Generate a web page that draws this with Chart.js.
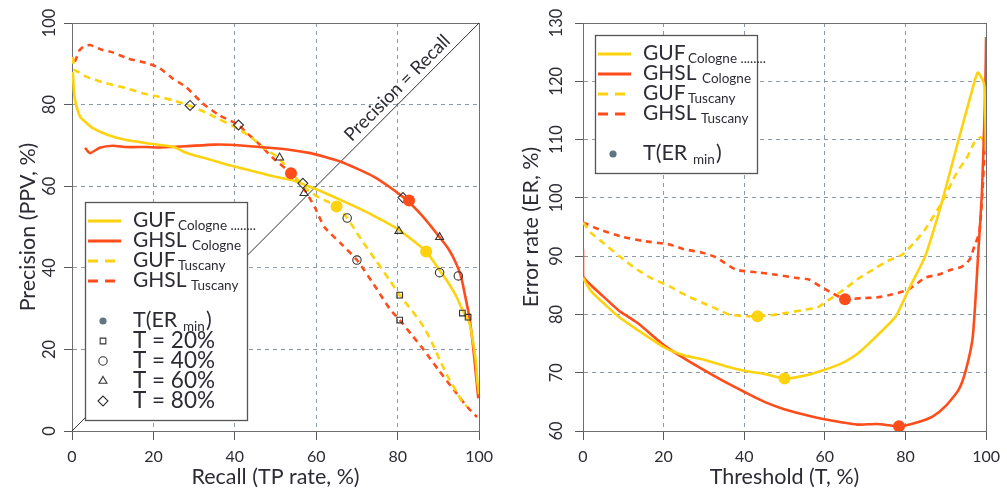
<!DOCTYPE html>
<html><head><meta charset="utf-8">
<script src="https://cdn.jsdelivr.net/npm/chart.js@4.4.1/dist/chart.umd.min.js"></script>
<style>
html,body{margin:0;padding:0;background:#fff;}
body{width:1007px;height:490px;position:relative;overflow:hidden;}
#w1{position:absolute;left:0;top:0;width:500px;height:490px;}
#w2{position:absolute;left:500px;top:0;width:507px;height:490px;}
</style></head>
<body>
<div id="w1"><canvas id="c1" width="500" height="490"></canvas></div>
<div id="w2"><canvas id="c2" width="507" height="490"></canvas></div>
<script>
// ---------- Data: left panel (Precision vs Recall) ----------
const xTicks = [0, 20, 40, 60, 80, 100];
const precisionTicks = [0, 20, 40, 60, 80, 100];
const errorTicks = [60, 70, 80, 90, 100, 110, 120, 130];

const recallGufCologne = [0.2, 0.5, 1, 2, 3, 5, 9, 13.4, 18, 25, 28, 34, 40, 46, 50, 54, 58.6, 62, 64.5, 70, 75, 80, 84, 87, 90, 92, 94.4, 96, 97.6, 98.5, 99.2, 99.6, 100];
const precisionGufCologne = [88, 83, 80, 77, 76, 74.3, 72.5, 71.3, 70.6, 69.6, 68.2, 66.5, 64.8, 63.3, 62.3, 61.5, 59.8, 58.4, 57.3, 54.8, 52.3, 49.5, 46.5, 44, 39.8, 37, 33, 29.5, 26.5, 22, 17, 12, 9];

const recallGhslCologne = [3.2, 4.4, 6.8, 10, 13.4, 18.2, 21.4, 28, 35, 40, 46, 52, 58.6, 62, 66, 70, 74.2, 78, 82.2, 86, 88, 90.3, 92.5, 94.4, 95.6, 96.6, 97.6, 98.5, 99.2, 99.8];
const precisionGhslCologne = [69.4, 68.1, 69.4, 69.9, 69.6, 69.6, 69.5, 69.8, 70.2, 70.1, 69.6, 69.1, 68.1, 67.2, 66, 64.3, 62.3, 59.8, 56.6, 52.8, 50.4, 47.5, 44.6, 41, 37.7, 33, 28, 21, 14, 8];

const recallGufTuscany = [0.2, 0.6, 1.5, 3.6, 7.5, 13.4, 17.3, 21.4, 25, 28.7, 33, 36, 40, 44, 47, 50.6, 54, 57, 60, 62, 65, 67.6, 71, 74.5, 78, 80.5, 83.5, 86.4, 88.5, 90.3, 92.5, 94.5, 96, 97];
const precisionGufTuscany = [91.7, 88.5, 88, 86.8, 85.5, 84, 82.8, 81.9, 81, 79.8, 78, 76.5, 74.5, 72, 69.5, 67, 63.3, 59.8, 57.6, 56.6, 55, 52.2, 47, 42, 37, 33.3, 29.5, 25.5, 21.5, 17.5, 13, 9.5, 7, 6];

const recallGhslTuscany = [0.7, 1.2, 1.9, 3, 4.4, 7.5, 10, 13.4, 18.2, 21.4, 24.6, 28, 31.9, 36, 40.9, 43, 45.7, 49.9, 53.8, 57.2, 59.6, 62, 66, 70, 75, 78, 80.5, 83.5, 86.4, 90, 94.4, 97, 99.5];
const precisionGhslTuscany = [90.5, 91.7, 93.4, 94.3, 94.6, 93.4, 92.8, 91.4, 90.2, 89, 86.5, 84.3, 80.5, 77.5, 75, 73, 70.6, 66.4, 63.2, 59, 54.9, 50, 46, 41.9, 34.6, 30, 27.2, 23.5, 19.9, 15, 9.3, 6, 3.4];

const diagonalValues = [0, 100];

// markers: order GUF Cologne, GHSL Cologne, GUF Tuscany, GHSL Tuscany
const t20Recall = [95.9, 97.3, 80.5, 80.5];
const t20Precision = [28.9, 27.9, 33.3, 27.2];
const t40Recall = [90.3, 94.9, 67.6, 70.0];
const t40Precision = [38.8, 38.0, 52.2, 41.9];
const t60Recall = [80.3, 90.3, 51.0, 57.0];
const t60Precision = [49.0, 47.5, 67.0, 58.3];
const t80Recall = [56.7, 81.3, 29.0, 40.9];
const t80Precision = [60.7, 57.2, 79.8, 75.0];
const erMinRecallGuf = [87, 65];
const erMinPrecisionGuf = [44, 55];
const erMinRecallGhsl = [82.8, 53.8];
const erMinPrecisionGhsl = [56.5, 63.2];

// ---------- Data: right panel (Error rate vs Threshold) ----------
const thrGufCologne = [0, 2, 5, 9, 13.4, 20.3, 25, 29.6, 35, 40.3, 45, 50, 55, 59, 62, 64.8, 68, 72.7, 77.6, 80.8, 84.9, 89, 93, 96.4, 97.9, 99.1, 99.6, 100];
const errGufCologne = [86.3, 84, 82, 79.5, 77.4, 74.3, 73, 72.3, 71.2, 70.3, 69.8, 69, 69.5, 70.3, 71, 71.8, 73.2, 76.2, 79.7, 84.3, 90, 99.2, 109.5, 118.1, 121.5, 120.3, 119, 108];

const thrGhslCologne = [0, 0, 2, 5, 9, 13.4, 20.3, 25, 29.6, 35, 40.3, 45, 50.1, 55, 59.9, 64, 68, 73, 78.4, 83, 86.8, 90, 93.2, 95, 96.7, 98, 99, 99.8, 100];
const errGhslCologne = [91.2, 86.6, 85, 83.1, 80.6, 78.6, 74.6, 72.5, 70.6, 68.5, 66.6, 65, 63.7, 62.8, 62, 61.5, 61.1, 61.2, 60.8, 61.5, 62.5, 64.3, 67.1, 70.5, 76.2, 89.9, 101.4, 118.6, 127.6];

const thrGufTuscany = [0, 2, 5, 9, 13.4, 17, 21.5, 25.5, 29.6, 33, 36.2, 40, 43.3, 47, 50.8, 55, 58.1, 61, 64.8, 68, 72.7, 76, 79.3, 82, 84.9, 89, 92.7, 95.4, 97.1, 98.7, 99.5, 100];
const errGufTuscany = [95.8, 94, 92.3, 90, 87.7, 86.2, 84.8, 83.3, 82, 81, 80, 79.7, 79.7, 79.9, 80.3, 80.8, 81.2, 82.5, 84.3, 86, 88, 89.3, 90.3, 92.2, 94.6, 99.2, 104.3, 107.1, 109.5, 110.4, 109.5, 108];

const thrGhslTuscany = [0, 4, 9.3, 15, 21.5, 25, 29.6, 33, 37.9, 43.5, 48, 52.6, 56, 58.9, 62, 65, 69, 72.7, 76.5, 80.8, 84.9, 88, 91.5, 94, 95.9, 97.1, 98.3, 99, 99.6, 100];
const errGhslTuscany = [95.8, 94.6, 93.4, 92.6, 92, 91.2, 90.6, 89.8, 87.7, 87.2, 86.8, 86.3, 86, 84.8, 83.6, 82.6, 82.8, 82.9, 83.4, 84.3, 86.3, 86.8, 87.7, 88.2, 89.4, 91.7, 94, 99.7, 108, 117];

const erMinThrGuf = [50, 43.3];
const erMinErrGuf = [69, 79.7];
const erMinThrGhsl = [78.4, 65];
const erMinErrGhsl = [60.8, 82.6];

// ---------- Legend text ----------
const legendMain = ['GUF', 'GHSL', 'GUF', 'GHSL'];
const legendSub = ['Cologne ........', 'Cologne', 'Tuscany', 'Tuscany'];
const markerLabels = ['T = 20%', 'T = 40%', 'T = 60%', 'T = 80%'];

// ---------- Styles ----------
const FONT = 'Lato, "Open Sans", sans-serif';
const YEL = '#FDD20E';
const RED = '#FF4C1B';
const TXT = '#2c2c34';
const GRID = '#8d9ca8';
const AX = '#5a5a5a';
const MK = '#333';
const DASH_Y = [7, 5];
const DASH_R = [6, 5];

function pts(xs, ys) { return xs.map((x, i) => ({ x: x, y: ys[i] })); }

function lineDs(label, xs, ys, color, dash) {
  return { label, data: pts(xs, ys), showLine: true, borderColor: color, backgroundColor: color,
    borderWidth: 2.6, borderDash: dash, pointRadius: 0, tension: 0.2, order: 10, borderCapStyle: 'butt' };
}
function markDs(label, xs, ys, style, r) {
  return { label, data: pts(xs, ys), showLine: false, pointStyle: style, pointRadius: r,
    pointBorderColor: MK, pointBackgroundColor: 'rgba(255,255,255,0)', pointBorderWidth: 1.1, order: 1 };
}
function dotDs(label, xs, ys, color) {
  return { label, data: pts(xs, ys), showLine: false, pointStyle: 'circle', pointRadius: 6,
    pointBorderColor: color, pointBackgroundColor: color, pointBorderWidth: 0, order: 0 };
}

function xScale(title) {
  return {
    type: 'linear', min: 0, max: 100,
    afterBuildTicks: s => { s.ticks = xTicks.map(v => ({ value: v })); },
    ticks: { font: { family: FONT, size: 16 }, color: TXT, padding: 7, maxRotation: 0 },
    grid: { color: GRID, lineWidth: 1, tickLength: 9, tickColor: AX, tickBorderDash: [], drawTicks: true },
    border: { display: true, color: AX, width: 1, dash: [4, 4] },
    title: { display: true, text: title, font: { family: FONT, size: 21.5 }, color: TXT, padding: { top: 0, bottom: 0 } },
    afterFit: s => { s.height = 59; }
  };
}
function yScale(title, min, max, ticks, width, titlePad) {
  return {
    type: 'linear', min, max,
    afterBuildTicks: s => { s.ticks = ticks.map(v => ({ value: v })); },
    ticks: { display: false },
    grid: { color: GRID, lineWidth: 1, tickLength: 8, tickColor: AX, tickBorderDash: [], drawTicks: true },
    border: { display: true, color: AX, width: 1, dash: [4, 4] },
    title: { display: true, text: title, font: { family: FONT, size: 21.5 }, color: TXT, padding: { top: titlePad, bottom: 0 } },
    afterFit: s => { s.width = width; }
  };
}

function drawLegend(ctx, ox, oy, h, withMarkers) {
  ctx.save();
  ctx.fillStyle = '#fff';
  ctx.fillRect(ox, oy, 162, h);
  ctx.strokeStyle = '#555';
  ctx.lineWidth = 1.3;
  ctx.strokeRect(ox + 0.5, oy + 0.5, 162, h);
  const colors = [YEL, RED, YEL, RED];
  const dashes = [[], [], [10, 7], [10, 7]];
  const subX = [93, 107, 93, 106];
  ctx.textBaseline = 'middle';
  ctx.textAlign = 'left';
  for (let i = 0; i < 4; i++) {
    const cy = oy + 18 + i * 20;
    ctx.save();
    ctx.strokeStyle = colors[i]; ctx.lineWidth = 2.8; ctx.setLineDash(dashes[i]);
    ctx.beginPath(); ctx.moveTo(ox + 3, cy + 1); ctx.lineTo(ox + 36, cy + 1); ctx.stroke();
    ctx.restore();
    ctx.fillStyle = TXT;
    ctx.font = '21px ' + FONT;
    ctx.fillText(legendMain[i], ox + 48, cy);
    ctx.font = '13.5px ' + FONT;
    ctx.fillText(legendSub[i], ox + subX[i], cy + 6);
  }
  // T(ER min)
  const cy = oy + 118;
  ctx.fillStyle = '#5f7682';
  ctx.beginPath(); ctx.arc(ox + 18, cy + 1, 3.6, 0, Math.PI * 2); ctx.fill();
  ctx.fillStyle = TXT;
  ctx.font = '21.5px ' + FONT;
  ctx.fillText('T(ER', ox + 48, cy);
  ctx.fillText(')', ox + 121, cy);
  ctx.font = '13.5px ' + FONT;
  ctx.fillText('min', ox + 98, cy + 7);
  if (withMarkers) {
    const styles = ['rect', 'circle', 'triangle', 'rectRot'];
    const radii = [4, 4.2, 4.6, 5];
    for (let i = 0; i < 4; i++) {
      const my = oy + 139 + i * 20;
      ctx.save();
      ctx.strokeStyle = MK; ctx.lineWidth = 1.1; ctx.fillStyle = 'rgba(255,255,255,0)';
      Chart.helpers.drawPoint(ctx, { pointStyle: styles[i], radius: radii[i], borderWidth: 1.1, rotation: 0 }, ox + 18, my);
      ctx.restore();
      ctx.fillStyle = TXT;
      ctx.font = '22.5px ' + FONT;
      ctx.fillText(markerLabels[i], ox + 48, my);
    }
  }
  ctx.restore();
}

function extrasPlugin(opts) {
  return {
    id: 'extras_' + opts.name,
    beforeDatasetsDraw(chart) {
      const { ctx, chartArea: a } = chart;
      ctx.save();
      ctx.strokeStyle = '#6e6e6e'; ctx.lineWidth = 1;
      ctx.strokeRect(Math.round(a.left) + 0.5, Math.round(a.top) + 0.5, Math.round(a.right - a.left), Math.round(a.bottom - a.top));
      ctx.restore();
    },
    afterDraw(chart) {
      const { ctx } = chart;
      const ys = chart.scales.y;
      ctx.save();
      ctx.font = '16.5px ' + FONT; ctx.fillStyle = TXT; ctx.textAlign = 'center'; ctx.textBaseline = 'middle';
      ys.ticks.forEach(t => {
        const py = ys.getPixelForValue(t.value);
        ctx.save(); ctx.translate(opts.labelX, py); ctx.rotate(-Math.PI / 2);
        ctx.fillText(String(t.value), 0, 0); ctx.restore();
      });
      ctx.restore();
      if (opts.diagLabel) {
        const xs = chart.scales.x;
        const px = xs.getPixelForValue(82), py = ys.getPixelForValue(82);
        const ang = Math.atan2(ys.getPixelForValue(0) - ys.getPixelForValue(100), xs.getPixelForValue(100) - xs.getPixelForValue(0));
        ctx.save();
        ctx.translate(px, py); ctx.rotate(-ang);
        ctx.font = '18.5px ' + FONT; ctx.fillStyle = TXT; ctx.textAlign = 'center'; ctx.textBaseline = 'middle';
        ctx.fillText(opts.diagLabel, 0, -12);
        ctx.restore();
      }
      drawLegend(ctx, opts.legX, opts.legY, opts.legH, opts.markers);
    }
  };
}

const common = {
  responsive: false, animation: false, devicePixelRatio: 1,
  plugins: { legend: { display: false }, tooltip: { enabled: false } },
  elements: { line: { fill: false } }
};

new Chart(document.getElementById('c1'), {
  type: 'scatter',
  data: { datasets: [
    dotDs('T(ERmin) GUF', erMinRecallGuf, erMinPrecisionGuf, YEL),
    dotDs('T(ERmin) GHSL', erMinRecallGhsl, erMinPrecisionGhsl, RED),
    markDs('T = 20%', t20Recall, t20Precision, 'rect', 4),
    markDs('T = 40%', t40Recall, t40Precision, 'circle', 4.2),
    markDs('T = 60%', t60Recall, t60Precision, 'triangle', 4.6),
    markDs('T = 80%', t80Recall, t80Precision, 'rectRot', 5),
    lineDs('GUF Cologne', recallGufCologne, precisionGufCologne, YEL, []),
    lineDs('GHSL Cologne', recallGhslCologne, precisionGhslCologne, RED, []),
    lineDs('GUF Tuscany', recallGufTuscany, precisionGufTuscany, YEL, DASH_Y),
    lineDs('GHSL Tuscany', recallGhslTuscany, precisionGhslTuscany, RED, DASH_R),
    Object.assign(lineDs('Precision = Recall', diagonalValues, diagonalValues, '#333', []), { borderWidth: 1, order: 20, tension: 0 })
  ] },
  options: Object.assign({}, common, {
    layout: { padding: { top: 23, right: 17, left: 0, bottom: 0 } },
    scales: {
      x: xScale('Recall (TP rate, %)'),
      y: yScale('Precision (PPV, %)', 0, 100, precisionTicks, 72, 15)
    }
  }),
  plugins: [extrasPlugin({ name: 'l', labelX: 50, diagLabel: 'Precision = Recall', legX: 85, legY: 202, legH: 218, markers: true })]
});

new Chart(document.getElementById('c2'), {
  type: 'scatter',
  data: { datasets: [
    dotDs('T(ERmin) GUF', erMinThrGuf, erMinErrGuf, YEL),
    dotDs('T(ERmin) GHSL', erMinThrGhsl, erMinErrGhsl, RED),
    lineDs('GUF Cologne', thrGufCologne, errGufCologne, YEL, []),
    lineDs('GHSL Cologne', thrGhslCologne, errGhslCologne, RED, []),
    lineDs('GUF Tuscany', thrGufTuscany, errGufTuscany, YEL, DASH_Y),
    lineDs('GHSL Tuscany', thrGhslTuscany, errGhslTuscany, RED, DASH_R)
  ] },
  options: Object.assign({}, common, {
    layout: { padding: { top: 23, right: 15, left: 0, bottom: 0 } },
    scales: {
      x: xScale('Threshold (T, %)'),
      y: yScale('Error rate (ER, %)', 60, 130, errorTicks, 83, 18)
    }
  }),
  plugins: [extrasPlugin({ name: 'r', labelX: 57, legX: 95, legY: 35, legH: 138, markers: false })]
});
</script>
</body></html>
